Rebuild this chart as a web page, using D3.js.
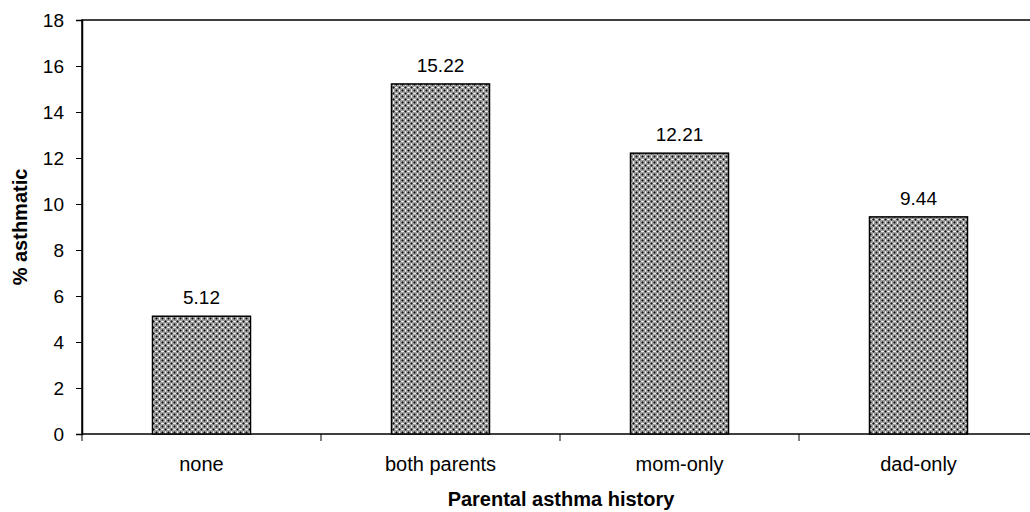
<!DOCTYPE html>
<html><head><meta charset="utf-8">
<script src="https://cdn.jsdelivr.net/npm/d3@7"></script>
<style>body{margin:0;background:#fff}svg{display:block;font-family:"Liberation Sans",Arial,sans-serif}</style>
</head><body>
<svg id="c" width="1030" height="512"></svg>
<script>
const categories = ["none", "both parents", "mom-only", "dad-only"];
const values = [5.12, 15.22, 12.21, 9.44];
const valueLabels = ["5.12", "15.22", "12.21", "9.44"];
const yTicks = [0, 2, 4, 6, 8, 10, 12, 14, 16, 18];

const svg = d3.select("#c");
const L = 82, R = 1038, T = 20, B = 434;
const x = d3.scaleBand().domain(categories).range([L, R]).paddingInner(0).paddingOuter(0);
const y = d3.scaleLinear().domain([0, 18]).range([B, T]);

const defs = svg.append("defs");
const p = defs.append("pattern").attr("id", "pat").attr("patternUnits", "userSpaceOnUse")
  .attr("width", 6).attr("height", 6);
p.append("rect").attr("width", 6).attr("height", 6).attr("fill", "#9a9a9a");
[[0,0,"#111"],[3,3,"#111"],[1,0,"#555"],[0,1,"#555"],[5,0,"#555"],[0,5,"#555"],
 [4,3,"#555"],[2,3,"#555"],[3,2,"#555"],[3,4,"#555"],[0,3,"#fff"],[3,0,"#fff"],[1,3,"#ddd"],[5,3,"#ddd"],[3,1,"#ddd"],[3,5,"#ddd"]]
 .forEach(([a,b,c]) => p.append("rect").attr("x", a).attr("y", b).attr("width", 1).attr("height", 1).attr("fill", c));

// frame
svg.append("rect").attr("x", L).attr("y", T).attr("width", R - L).attr("height", B - T)
  .attr("fill", "none").attr("stroke", "#000").attr("stroke-width", 1.5);

// bars
const bw = 98;
svg.selectAll(".bar").data(categories).enter().append("rect")
  .attr("x", d => x(d) + x.bandwidth() / 2 - bw / 2)
  .attr("y", (d, i) => y(values[i]))
  .attr("width", bw)
  .attr("height", (d, i) => y(0) - y(values[i]))
  .attr("fill", "url(#pat)").attr("stroke", "#000").attr("stroke-width", 1.5);

// value labels
svg.selectAll(".vl").data(categories).enter().append("text")
  .attr("x", d => x(d) + x.bandwidth() / 2)
  .attr("y", (d, i) => y(values[i]) - 12)
  .attr("text-anchor", "middle").attr("font-size", 19).text((d, i) => valueLabels[i]);

// y axis
const ya = svg.append("g").attr("transform", `translate(${L},0)`)
  .call(d3.axisLeft(y).tickValues(yTicks).tickSize(6).tickPadding(12).tickFormat(d3.format("d")));
ya.select(".domain").attr("stroke-width", 1.5);
ya.selectAll("text").attr("font-size", 19).attr("font-family", "Liberation Sans, Arial, sans-serif").attr("fill", "#000");

// x axis
const xa = svg.append("g").attr("transform", `translate(0,${B})`)
  .call(d3.axisBottom(x).tickSize(0).tickPadding(0));
xa.select(".domain").remove();
xa.selectAll("text").attr("font-size", 20).attr("dy", null).attr("y", 37)
  .attr("font-family", "Liberation Sans, Arial, sans-serif").attr("fill", "#000");
const bounds = categories.map(c => x(c)).concat([R]);
svg.selectAll(".xt").data(bounds).enter().append("line")
  .attr("x1", d => d).attr("x2", d => d).attr("y1", B).attr("y2", B + 7)
  .attr("stroke", "#000").attr("stroke-width", 1);

// titles
svg.append("text").attr("x", 561).attr("y", 506).attr("text-anchor", "middle")
  .attr("font-size", 20).attr("font-weight", "bold").text("Parental asthma history");
svg.append("text").attr("transform", `translate(27,${(T + B) / 2}) rotate(-90)`).attr("text-anchor", "middle")
  .attr("font-size", 20).attr("font-weight", "bold").text("% asthmatic");
</script>
</body></html>
